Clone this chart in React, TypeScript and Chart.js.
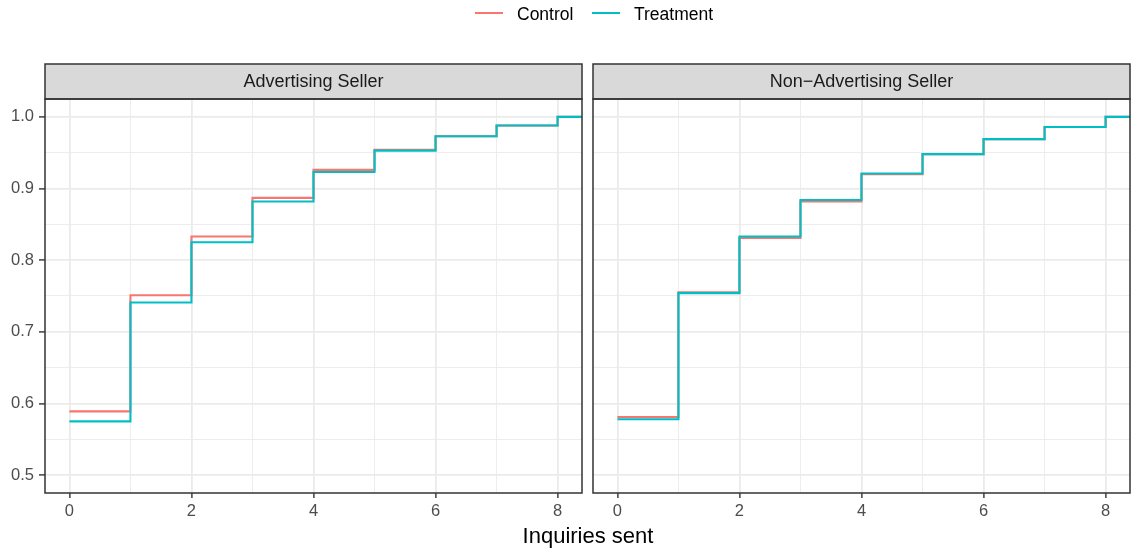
import { useEffect, useRef } from "react";
import { Chart, registerables } from "chart.js";

Chart.register(...registerables);

// ---- data ----
const inquiries = [0, 1, 2, 3, 4, 5, 6, 7, 8];
const advControl = [0.589, 0.751, 0.833, 0.887, 0.926, 0.954, 0.973, 0.988, 1.0];
const advTreatment = [0.575, 0.741, 0.825, 0.882, 0.923, 0.953, 0.973, 0.988, 1.0];
const nonAdvControl = [0.581, 0.755, 0.831, 0.882, 0.92, 0.948, 0.969, 0.986, 1.0];
const nonAdvTreatment = [0.578, 0.754, 0.833, 0.884, 0.921, 0.948, 0.969, 0.986, 1.0];
const panelTitles = ["Advertising Seller", "Non\u2212Advertising Seller"];
const seriesNames = ["Control", "Treatment"];
const seriesColors = ["#F8766D", "#00BFC4"];
const xTicks = [0, 1, 2, 3, 4, 5, 6, 7, 8];
const yTicks = [0.5, 0.55, 0.6, 0.65, 0.7, 0.75, 0.8, 0.85, 0.9, 0.95, 1.0];
const xTitle = "Inquiries sent";

const FONT = '"Liberation Sans", Arial, Helvetica, sans-serif';

const isMajorX = (v: number) => Math.round(v) % 2 === 0;
const isMajorY = (v: number) => Math.abs(v * 10 - Math.round(v * 10)) < 1e-6;

const panelPlugin = {
  id: "panelStrip",
  afterDraw(chart: any, _args: any, opts: any) {
    const { ctx, chartArea: a } = chart;
    const stripTop = 64;
    ctx.save();
    ctx.fillStyle = "#D9D9D9";
    ctx.fillRect(a.left, stripTop, a.right - a.left, a.top - stripTop);
    ctx.strokeStyle = "#333333";
    ctx.lineWidth = 1.5;
    ctx.strokeRect(a.left, stripTop, a.right - a.left, a.top - stripTop);
    ctx.strokeRect(a.left, a.top, a.right - a.left, a.bottom - a.top);
    ctx.fillStyle = "#1A1A1A";
    ctx.font = `18px ${FONT}`;
    ctx.textAlign = "center";
    ctx.textBaseline = "middle";
    ctx.fillText(opts.title, (a.left + a.right) / 2, (stripTop + a.top) / 2 + 1);
    ctx.restore();
  },
};

function buildSeries(vals: number[]) {
  const pts = inquiries.map((x, i) => ({ x, y: vals[i] }));
  // ECDF continues at its last value beyond the last observed count
  pts.push({ x: inquiries[inquiries.length - 1] + 1, y: vals[vals.length - 1] });
  return pts;
}

function makeChart(
  canvas: HTMLCanvasElement,
  title: string,
  control: number[],
  treatment: number[],
  showY: boolean,
  yWidth: number
) {
  return new Chart(canvas, {
    type: "line",
    data: {
      datasets: [control, treatment].map((vals, i) => ({
        label: seriesNames[i],
        data: buildSeries(vals),
        borderColor: seriesColors[i],
        backgroundColor: seriesColors[i],
        borderWidth: 2.1,
        pointRadius: 0,
        stepped: "before",
        fill: false,
        tension: 0,
        order: i === 0 ? 1 : 0,
      })),
    },
    options: {
      animation: false,
      responsive: false,
      devicePixelRatio: 1,
      events: [],
      layout: { padding: { top: 99, right: 1, left: 0, bottom: 0 } },
      plugins: {
        legend: { display: false },
        tooltip: { enabled: false },
        panelStrip: { title },
      } as any,
      scales: {
        x: {
          type: "linear",
          min: -0.4,
          max: 8.4,
          afterBuildTicks: (scale: any) => {
            scale.ticks = xTicks.map((v) => ({ value: v }));
          },
          afterFit: (scale: any) => {
            scale.height = 55;
          },
          border: { display: false },
          grid: {
            color: "#EBEBEB",
            lineWidth: (c: any) => (c.tick && isMajorX(c.tick.value) ? 1.8 : 0.9),
            tickColor: (c: any) =>
              c.tick && isMajorX(c.tick.value) ? "#333333" : "rgba(0,0,0,0)",
            tickWidth: 1.4,
            tickLength: 5,
          },
          ticks: {
            autoSkip: false,
            maxRotation: 0,
            padding: 4,
            color: "#4D4D4D",
            font: { family: FONT, size: 16.5 },
            callback: (v: any) => (isMajorX(Number(v)) ? String(v) : ""),
          },
        },
        y: {
          type: "linear",
          min: 0.475,
          max: 1.025,
          afterBuildTicks: (scale: any) => {
            scale.ticks = yTicks.map((v) => ({ value: v }));
          },
          afterFit: (scale: any) => {
            scale.width = yWidth;
          },
          border: { display: false },
          grid: {
            color: "#EBEBEB",
            lineWidth: (c: any) => (c.tick && isMajorY(c.tick.value) ? 1.8 : 0.9),
            tickColor: (c: any) =>
              showY && c.tick && isMajorY(c.tick.value) ? "#333333" : "rgba(0,0,0,0)",
            tickWidth: 1.4,
            tickLength: 6,
          },
          ticks: {
            display: showY,
            autoSkip: false,
            padding: 5,
            color: "#4D4D4D",
            font: { family: FONT, size: 16.5 },
            callback: (v: any) => (isMajorY(Number(v)) ? Number(v).toFixed(1) : ""),
          },
        },
      },
    },
    plugins: [panelPlugin as any],
  });
}

export default function App() {
  const leftRef = useRef<HTMLCanvasElement>(null);
  const rightRef = useRef<HTMLCanvasElement>(null);

  useEffect(() => {
    document.body.style.margin = "0";
    const charts = [
      makeChart(leftRef.current!, panelTitles[0], advControl, advTreatment, true, 45),
      makeChart(rightRef.current!, panelTitles[1], nonAdvControl, nonAdvTreatment, false, 10),
    ];
    return () => charts.forEach((c) => c.destroy());
  }, []);

  const legendItems = [
    { lineLeft: 475, textLeft: 517 },
    { lineLeft: 592, textLeft: 634 },
  ];

  return (
    <div
      style={{
        position: "relative",
        width: 1131,
        height: 548,
        background: "#FFFFFF",
        fontFamily: FONT,
        overflow: "hidden",
      }}
    >
      <canvas
        ref={leftRef}
        width={583}
        height={548}
        style={{ position: "absolute", left: 0, top: 0 }}
      />
      <canvas
        ref={rightRef}
        width={548}
        height={548}
        style={{ position: "absolute", left: 583, top: 0 }}
      />
      {seriesNames.map((name, i) => (
        <div key={name}>
          <div
            style={{
              position: "absolute",
              left: legendItems[i].lineLeft,
              top: 12,
              width: 28,
              height: 2,
              background: seriesColors[i],
            }}
          />
          <div
            style={{
              position: "absolute",
              left: legendItems[i].textLeft,
              top: 3,
              fontSize: 17.5,
              lineHeight: "22px",
              color: "#000000",
              whiteSpace: "nowrap",
            }}
          >
            {name}
          </div>
        </div>
      ))}
      <div
        style={{
          position: "absolute",
          left: 588,
          top: 524,
          transform: "translateX(-50%)",
          fontSize: 22,
          lineHeight: "24px",
          color: "#000000",
          whiteSpace: "nowrap",
        }}
      >
        {xTitle}
      </div>
    </div>
  );
}
